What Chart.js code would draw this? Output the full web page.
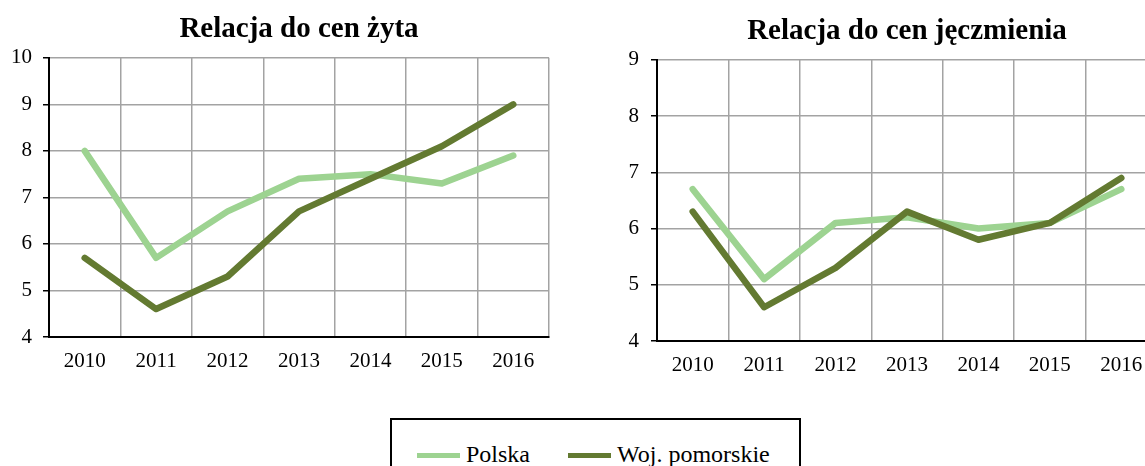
<!DOCTYPE html>
<html lang="pl">
<head>
<meta charset="UTF-8">
<title>Relacja cen</title>
<script src="https://cdn.jsdelivr.net/npm/chart.js"></script>
<style>
  html, body { margin: 0; padding: 0; background: #fff; overflow: hidden; width: 1145px; height: 466px; }
  canvas { position: absolute; }
  #c1 { left: 0; top: 0; }
  #c2 { left: 608px; top: 0; }
  #legend { position: absolute; left: 390px; top: 418px; width: 411px; height: 70px; border: 2px solid #000; box-sizing: border-box;
            font-family: 'Liberation Serif', 'Times New Roman', serif; font-size: 24px; color: #000; }
  .item { position: absolute; top: 20px; height: 28px; line-height: 28px; white-space: nowrap; }
  .sw { display: inline-block; width: 43px; height: 5px; vertical-align: middle; margin-right: 6px; position: relative; top: -1px; }
</style>
</head>
<body>
<canvas id="c1" width="590" height="400"></canvas>
<canvas id="c2" width="594" height="400"></canvas>
<div id="legend"></div>
<script>
// data
const years = ['2010', '2011', '2012', '2013', '2014', '2015', '2016'];
const seriesNames = ['Polska', 'Woj. pomorskie'];
const seriesColors = ['#9dd391', '#637a31'];

const rye_polska = [8.0, 5.7, 6.7, 7.4, 7.5, 7.3, 7.9];
const rye_pomorskie = [5.7, 4.6, 5.3, 6.7, 7.4, 8.1, 9.0];
const barley_polska = [6.7, 5.1, 6.1, 6.2, 6.0, 6.1, 6.7];
const barley_pomorskie = [6.3, 4.6, 5.3, 6.3, 5.8, 6.1, 6.9];

const FONT = "'Liberation Serif', 'Times New Roman', serif";
const GRID = '#a3a3a3';

function makeChart(id, title, polska, pomorskie, yMin, yMax, opt) {
    new Chart(document.getElementById(id), {
        type: 'line',
        data: {
            labels: years,
            datasets: [
                { label: seriesNames[0], data: polska, borderColor: seriesColors[0], order: 1 },
                { label: seriesNames[1], data: pomorskie, borderColor: seriesColors[1], order: 0 }
            ]
        },
        options: {
            responsive: false,
            animation: false,
            devicePixelRatio: 1,
            layout: { padding: { left: 0, right: opt.right, top: 0, bottom: 0 } },
            elements: {
                line: { borderWidth: 6.5, tension: 0, borderCapStyle: 'round', borderJoinStyle: 'round', fill: false },
                point: { radius: 0, hoverRadius: 0 }
            },
            plugins: {
                legend: { display: false },
                tooltip: { enabled: false },
                title: {
                    display: true, text: title, color: '#000', fullSize: false,
                    font: { family: FONT, size: 29, weight: 'bold', lineHeight: 1.2 },
                    padding: { top: opt.titleTop, bottom: opt.titleBottom }
                }
            },
            scales: {
                x: {
                    offset: true,
                    afterFit: s => { s.height = opt.xHeight; },
                    grid: {
                        offset: true, drawTicks: false, lineWidth: 1.5,
                        color: c => c.index === 0 ? 'rgba(0,0,0,0)' : GRID
                    },
                    border: { color: '#000', width: 2 },
                    ticks: { color: '#000', padding: 12, font: { family: FONT, size: 21 } }
                },
                y: {
                    min: yMin, max: yMax,
                    afterFit: s => { s.width = 49; },
                    grid: {
                        lineWidth: 1.5, tickLength: 6, tickColor: '#000',
                        color: c => (c.tick && c.tick.value === yMin) ? 'rgba(0,0,0,0)' : GRID
                    },
                    border: { color: '#000', width: 2 },
                    ticks: { stepSize: 1, color: '#000', padding: opt.yPad, font: { family: FONT, size: 21 } }
                }
            }
        }
    });
}

makeChart('c1', 'Relacja do cen żyta', rye_polska, rye_pomorskie, 4, 10,
    { right: 41, xHeight: 63, titleTop: 12, titleBottom: 11, yPad: 11 });
makeChart('c2', 'Relacja do cen jęczmienia', barley_polska, barley_pomorskie, 4, 9,
    { right: 45, xHeight: 59, titleTop: 14, titleBottom: 11, yPad: 12 });

// legend
const legend = document.getElementById('legend');
const itemLeft = [25, 176];
seriesNames.forEach((name, i) => {
    const it = document.createElement('div');
    it.className = 'item';
    it.style.left = itemLeft[i] + 'px';
    it.innerHTML = '<span class="sw" style="background:' + seriesColors[i] + '"></span>' + name;
    legend.appendChild(it);
});
</script>
</body>
</html>
